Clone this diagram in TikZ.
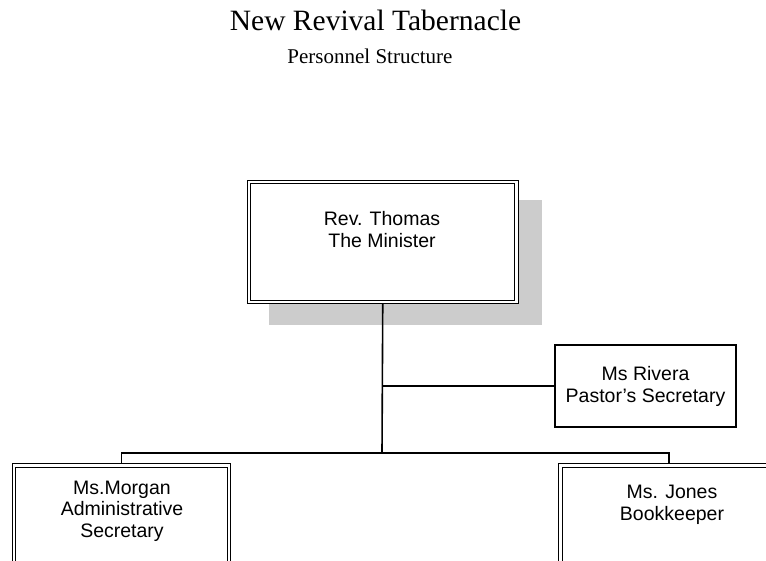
\documentclass[tikz,border=0pt]{standalone}
\usepackage{fontspec}
\setmainfont{Liberation Serif}
\newfontfamily\arialf{Liberation Sans}
\usetikzlibrary{backgrounds}
\tikzset{
  dblbox/.style={draw=black, line width=1.2pt, double=white, double distance=2.4pt, fill=white, inner sep=0pt},
  sglbox/.style={draw=black, line width=1.3pt, fill=white, inner sep=0pt},
  conn/.style={draw=black, line width=1.6pt},
  shadowbox/.style={fill=black!20, draw=none},
  lbl/.style={font=\arialf\fontsize{19.5}{21.5}\selectfont, align=center, anchor=base, inner sep=0pt},
  title/.style={font=\fontsize{29.5}{32}\selectfont, anchor=base, inner sep=0pt},
  subtitle/.style={font=\fontsize{21}{24}\selectfont, anchor=base, inner sep=0pt}
}
\begin{document}
\begin{tikzpicture}[x=1pt,y=-1pt]
\useasboundingbox (0,0) rectangle (766,560);
\clip (0,0) rectangle (766,560);
\node[title] (t1) at (375.5,30) {New Revival Tabernacle};
\node[subtitle] (t2) at (370,63) {Personnel Structure};
% boxes
\node[dblbox, minimum width=267.5pt, minimum height=120pt] (top) at (382.75,242) {};
\node[sglbox, minimum width=181pt, minimum height=82pt] (rivera) at (645.5,386) {};
\node[dblbox, minimum width=215pt, minimum height=140pt] (morgan) at (121.5,535.5) {};
\node[dblbox, minimum width=217pt, minimum height=140pt] (jones) at (669,535.5) {};
% labels (base = last line's baseline)
\node[lbl] (ltop) at (382,247) {Rev. Thomas\\The Minister};
\node[lbl] (lriv) at (645.5,402) {Ms Rivera\\Pastor’s Secretary};
\node[lbl] (lmor) at (122,537) {Ms.Morgan\\Administrative\\Secretary};
\node[lbl] (ljon) at (672,520) {Ms. Jones\\Bookkeeper};
% connectors
\coordinate (bus) at (382,453);
\begin{scope}[on background layer]
\fill[white] (0,0) rectangle (766,560);
\fill[shadowbox] (269,200) rectangle (542,325);
\draw[conn] (top.south) -- (bus);
\draw[conn, line width=1.3pt] (top.south |- rivera.west) -- (rivera.west);
\draw[conn, line width=1.3pt] (bus) -| (morgan.north);
\draw[conn, line width=1.3pt] (bus) -| (jones.north);
\end{scope}
\end{tikzpicture}
\end{document}
